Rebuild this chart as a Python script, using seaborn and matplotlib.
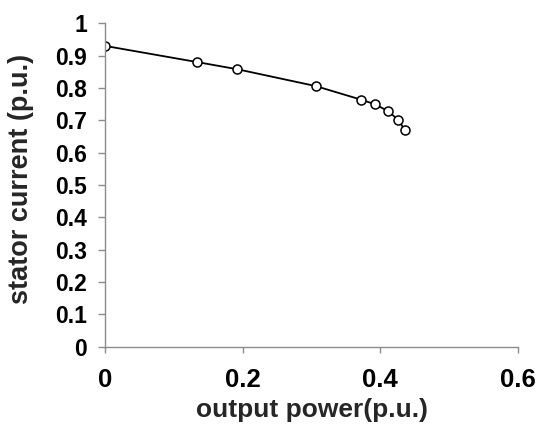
import matplotlib
matplotlib.use("Agg")
import matplotlib.pyplot as plt
import seaborn as sns
import pandas as pd

# Data
output_power = [0.0, 0.134, 0.192, 0.306, 0.372, 0.392, 0.411, 0.426, 0.436]
stator_current = [0.930, 0.880, 0.858, 0.806, 0.764, 0.750, 0.729, 0.702, 0.669]
x_ticks = [0, 0.2, 0.4, 0.6]
x_tick_labels = ["0", "0.2", "0.4", "0.6"]
y_ticks = [0, 0.1, 0.2, 0.3, 0.4, 0.5, 0.6, 0.7, 0.8, 0.9, 1.0]
y_tick_labels = ["0", "0.1", "0.2", "0.3", "0.4", "0.5", "0.6", "0.7", "0.8", "0.9", "1"]

df = pd.DataFrame({"output power(p.u.)": output_power,
                   "stator current (p.u.)": stator_current})

sns.set_style("white")
plt.rcParams['font.family'] = ['Liberation Sans', 'DejaVu Sans']

fig = plt.figure(figsize=(5.38, 4.30), dpi=100)
ax = fig.add_axes([0.1957, 0.1937, 0.7666, 0.7521])

sns.lineplot(data=df, x="output power(p.u.)", y="stator current (p.u.)", ax=ax,
             color="black", linewidth=1.3, marker="o", markersize=6.5,
             markerfacecolor="white", markeredgecolor="black",
             markeredgewidth=1.1, sort=False)

ax.set_xlim(0, 0.6)
ax.set_ylim(0, 1.0)
ax.set_xticks(x_ticks)
ax.set_xticklabels(x_tick_labels, fontsize=18.5, fontweight="bold")
ax.set_yticks(y_ticks)
ax.set_yticklabels(y_tick_labels, fontsize=16.5, fontweight="bold")

axis_col = "#8c8c8c"
for s in ["top", "right"]:
    ax.spines[s].set_visible(False)
for s in ["left", "bottom"]:
    ax.spines[s].set_color(axis_col)
    ax.spines[s].set_linewidth(1.0)
ax.tick_params(axis="x", direction="out", length=4.5, width=1.0, color=axis_col,
               pad=11, labelcolor="black", bottom=True)
ax.tick_params(axis="y", direction="out", length=5, width=1.0, color=axis_col,
               pad=8, labelcolor="black", left=True)

ax.set_xlabel("output power(p.u.)", fontsize=19, fontweight="bold", labelpad=4)
ax.set_ylabel("stator current (p.u.)", fontsize=19.5, fontweight="bold")
ax.yaxis.set_label_coords(-0.172, 0.52)

fig.savefig("out.png", dpi=100)
